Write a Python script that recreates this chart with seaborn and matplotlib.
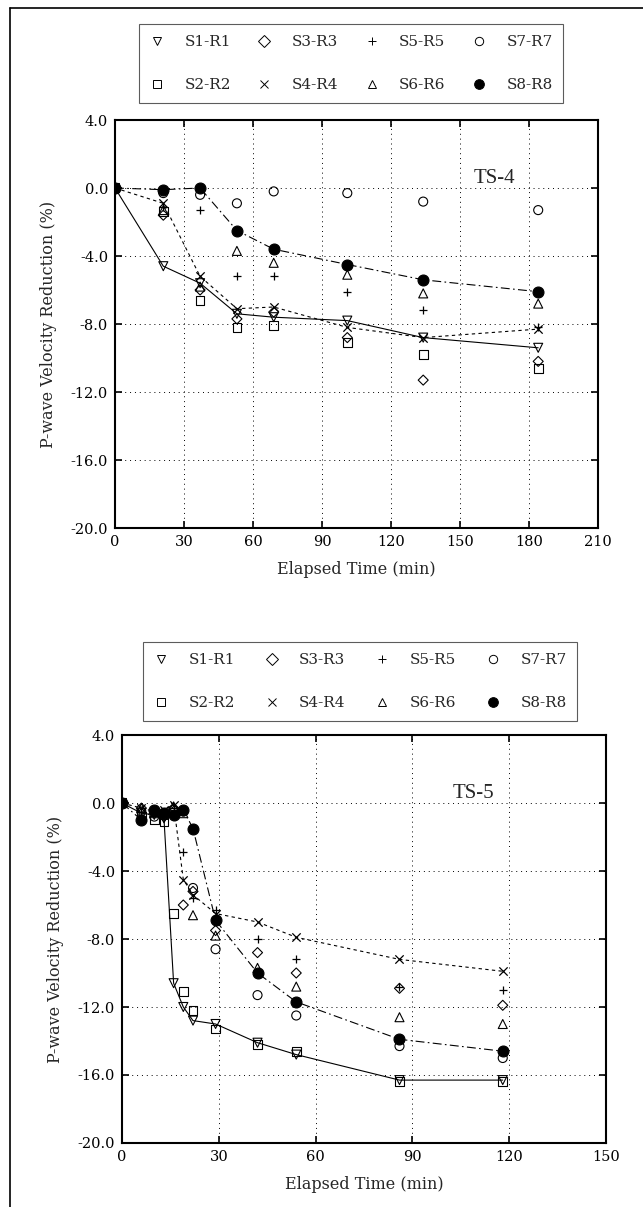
import pandas as pd
import seaborn as sns
import matplotlib.pyplot as plt
from matplotlib.lines import Line2D

sns.set_theme(style="white")
plt.rcParams['font.family'] = ['DejaVu Serif']

series = ["S1-R1", "S2-R2", "S3-R3", "S4-R4", "S5-R5", "S6-R6", "S7-R7", "S8-R8"]

# TS-4 (top panel)
ts4_time = [0, 21, 37, 53, 69, 101, 134, 184]
ts4_s1 = [0.0, -4.6, -5.6, -7.4, -7.6, -7.8, -8.8, -9.4]
ts4_s2 = [0.0, -1.4, -6.6, -8.2, -8.1, -9.1, -9.8, -10.6]
ts4_s3 = [0.0, -1.6, -6.0, -7.7, -7.3, -8.8, -11.3, -10.2]
ts4_s4 = [0.0, -0.9, -5.2, -7.1, -7.0, -8.2, -8.8, -8.3]
ts4_s5 = [0.0, -1.1, -1.3, -5.2, -5.2, -6.1, -7.2, -8.2]
ts4_s6 = [0.0, -1.3, -5.8, -3.7, -4.4, -5.1, -6.2, -6.8]
ts4_s7 = [0.0, -0.3, -0.4, -0.9, -0.2, -0.3, -0.8, -1.3]
ts4_s8 = [0.0, -0.1, 0.0, -2.5, -3.6, -4.5, -5.4, -6.1]

# TS-5 (bottom panel)
ts5_time = [0, 6, 10, 13, 16, 19, 22, 29, 42, 54, 86, 118]
ts5_s1 = [0.0, -0.6, -0.7, -0.9, -10.6, -12.0, -12.8, -13.0, -14.1, -14.8, -16.3, -16.3]
ts5_s2 = [0.0, -0.8, -1.0, -1.1, -6.5, -11.1, -12.2, -13.3, -14.2, -14.6, -16.4, -16.4]
ts5_s3 = [0.0, -0.3, -0.5, -0.8, -0.3, -6.0, -5.2, -7.5, -8.8, -10.0, -10.9, -11.9]
ts5_s4 = [0.0, -0.3, -0.5, -0.4, -0.1, -4.5, -5.4, -6.5, -7.0, -7.9, -9.2, -9.9]
ts5_s5 = [0.0, -0.5, -0.6, -0.5, -0.3, -2.9, -5.6, -6.3, -8.0, -9.2, -10.8, -11.0]
ts5_s6 = [0.0, -0.3, -0.6, -0.7, -0.2, -0.6, -6.6, -7.8, -9.7, -10.8, -12.6, -13.0]
ts5_s7 = [0.0, -0.5, -0.8, -0.6, -0.4, -0.5, -5.0, -8.6, -11.3, -12.5, -14.3, -15.0]
ts5_s8 = [0.0, -1.0, -0.4, -0.6, -0.7, -0.4, -1.5, -6.9, -10.0, -11.7, -13.9, -14.6]

y_ticks = [4, 0, -4, -8, -12, -16, -20]
y_ticklabels = ["4.0", "0.0", "-4.0", "-8.0", "-12.0", "-16.0", "-20.0"]

# marker look for each series
mstyle = {
    "S1-R1": dict(marker="v", fc="none", s=42),
    "S2-R2": dict(marker="s", fc="none", s=40),
    "S3-R3": dict(marker="D", fc="none", s=26),
    "S4-R4": dict(marker="x", fc=None, s=36),
    "S5-R5": dict(marker="+", fc=None, s=40),
    "S6-R6": dict(marker="^", fc="none", s=42),
    "S7-R7": dict(marker="o", fc="none", s=42),
    "S8-R8": dict(marker="o", fc="black", s=62),
}
# connected series
lstyle = {
    "S1-R1": "-",
    "S4-R4": (0, (3, 3)),
    "S8-R8": (0, (8, 3, 1.5, 3)),
}


def to_long(time, cols):
    rows = []
    for name, vals in zip(series, cols):
        for t, v in zip(time, vals):
            rows.append({"time": t, "value": v, "series": name})
    return pd.DataFrame(rows)


def draw_panel(ax, df, xmax, tag, tag_x):
    for name, ls in lstyle.items():
        sub = df[df["series"] == name]
        sns.lineplot(data=sub, x="time", y="value", color="black", linewidth=0.8,
                     linestyle=ls, ax=ax, zorder=2)
    for name in series:
        sub = df[df["series"] == name]
        st = mstyle[name]
        if st["fc"] is None:
            sns.scatterplot(data=sub, x="time", y="value", marker=st["marker"], s=st["s"],
                            color="black", linewidth=0.9, ax=ax, zorder=3)
        else:
            sns.scatterplot(data=sub, x="time", y="value", marker=st["marker"], s=st["s"],
                            facecolor=st["fc"], edgecolor="black", linewidth=0.8, ax=ax, zorder=3)
    ax.set_xlim(0, xmax)
    ax.set_ylim(-20, 4)
    ax.set_xticks(list(range(0, xmax + 1, 30)))
    ax.set_yticks(y_ticks)
    ax.set_yticklabels(y_ticklabels)
    ax.grid(True, color="black", linestyle=(0, (1, 4)), linewidth=0.7)
    ax.tick_params(direction="in", length=5, width=1.2, top=True, right=True,
                   bottom=True, left=True, labelsize=10.5, colors="black", pad=5)
    for sp in ax.spines.values():
        sp.set_color("black")
        sp.set_linewidth(1.5)
    ax.set_xlabel("Elapsed Time (min)", fontsize=11.5, labelpad=9)
    ax.set_ylabel("P-wave Velocity Reduction (%)", fontsize=11.5, labelpad=10)
    ax.text(tag_x, 0.55, tag, fontsize=15, family="Liberation Serif", ha="center", va="center")


def add_legend(fig, box):
    handles = []
    for name in series:
        st = mstyle[name]
        fc = "black" if st["fc"] is None else st["fc"]
        handles.append(Line2D([], [], linestyle="none", marker=st["marker"], color="black",
                              markerfacecolor=fc, markeredgecolor="black",
                              markersize=6 if name != "S8-R8" else 7, markeredgewidth=0.7))
    leg = fig.legend(handles, series, ncol=4, loc="center", bbox_to_anchor=box,
                     bbox_transform=fig.transFigure, mode="expand", fontsize=11,
                     frameon=True, fancybox=False, edgecolor="#333333",
                     labelspacing=1.9, handlelength=1.0, handletextpad=1.3, borderpad=0.7)
    leg.get_frame().set_linewidth(0.8)


W, H = 643, 1207
fig = plt.figure(figsize=(W / 100, H / 100), dpi=100)

ax1 = fig.add_axes([115 / W, 1 - 528 / H, 483 / W, 408 / H])
ax2 = fig.add_axes([122 / W, 1 - 1143 / H, 484 / W, 408 / H])

draw_panel(ax1, to_long(ts4_time, [ts4_s1, ts4_s2, ts4_s3, ts4_s4, ts4_s5, ts4_s6, ts4_s7, ts4_s8]),
           210, "TS-4", 165)
draw_panel(ax2, to_long(ts5_time, [ts5_s1, ts5_s2, ts5_s3, ts5_s4, ts5_s5, ts5_s6, ts5_s7, ts5_s8]),
           150, "TS-5", 109)

add_legend(fig, (131 / W, 1 - 105 / H, 440 / W, 83 / H))
add_legend(fig, (135 / W, 1 - 723 / H, 450 / W, 83 / H))

# page frame
fig.add_artist(Line2D([10 / W, 10 / W], [0, 1 - 8 / H], color="black", linewidth=1.2))
fig.add_artist(Line2D([10 / W, 1], [1 - 8 / H, 1 - 8 / H], color="black", linewidth=1.2))

fig.savefig("out.png", dpi=100)
